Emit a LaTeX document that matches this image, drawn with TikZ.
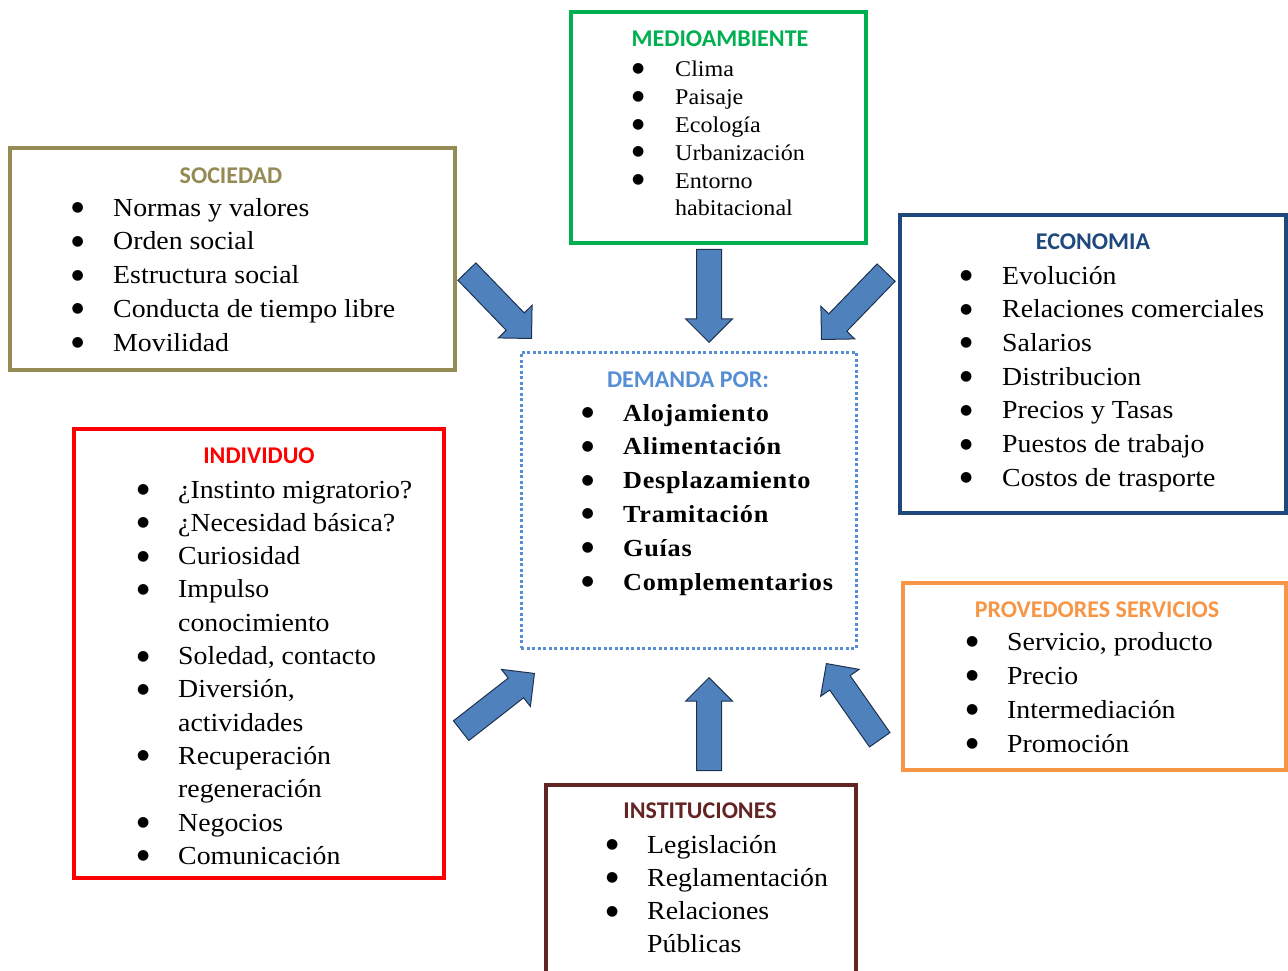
\documentclass[tikz,border=0pt]{standalone}
\usepackage{array}
\usepackage{fontspec}
\setmainfont{Liberation Serif}[FakeStretch=1.07]
\newfontfamily\headfont{Carlito}
\newfontfamily\symfont{DejaVu Sans}
\usetikzlibrary{shapes.arrows}
\definecolor{socc}{HTML}{948A54}
\definecolor{medc}{HTML}{00B050}
\definecolor{ecoc}{HTML}{1F497D}
\definecolor{demc}{HTML}{558ED5}
\definecolor{indc}{HTML}{FF0000}
\definecolor{provc}{HTML}{F79646}
\definecolor{instc}{HTML}{632523}
\definecolor{arrowfill}{HTML}{4F81BD}
\definecolor{arrowline}{HTML}{1E3250}
\newcommand\blt{\hspace*{1pt}\raisebox{4.5pt}{\symfont\mdseries\fontsize{14}{14}\selectfont ●}}
\newcommand\demfont{\bfseries\addfontfeatures{LetterSpace=3}\fontsize{24.5}{33.8}\selectfont}
\tikzset{
  box/.style={draw=#1, line width=3.5pt, rectangle, inner sep=0pt},
  ttl/.style={font=\fontsize{24}{28}\selectfont\headfont\bfseries, anchor=base, text=#1, inner sep=0pt},
  lst/.style={font=\fontsize{26}{#1}\selectfont, anchor=base west, inner sep=0pt},
  barrow/.style={single arrow, draw=arrowline, fill=arrowfill, line width=1pt,
    inner xsep=0pt, inner ysep=12pt, minimum height=93pt,
    single arrow head extend=11pt, single arrow tip angle=90, anchor=tip}
}
\begin{document}
\begin{tikzpicture}[x=1pt,y=-1pt]
\useasboundingbox (0,0) rectangle (1288,971);
% boxes
\node[box=socc, minimum width=445pt, minimum height=222pt] (soc) at (232.5,259) {};
\node[box=medc, minimum width=295pt, minimum height=231pt] (med) at (718.5,127.5) {};
\node[box=ecoc, minimum width=386pt, minimum height=298pt] (eco) at (1093,364) {};
\node[draw=demc, line width=3pt, dash pattern=on 3pt off 2.5pt, rectangle, inner sep=0pt,
      minimum width=335pt, minimum height=296pt] (dem) at (688.5,500) {};
\node[box=indc, minimum width=370pt, minimum height=449pt] (ind) at (259,653.5) {};
\node[box=provc, minimum width=383pt, minimum height=187pt] (prov) at (1094.5,676.5) {};
\node[box=instc, minimum width=310pt, minimum height=190pt] (inst) at (701,880) {};
% titles
\node[ttl=socc] (socT) at (231,183) {SOCIEDAD};
\node[ttl=medc] (medT) at (720,47) {MEDIOAMBIENTE};
\node[ttl=ecoc] (ecoT) at (1093,249) {ECONOMIA};
\node[ttl=demc] (demT) at (688,387) {DEMANDA POR:};
\node[ttl=indc] (indT) at (259,463) {INDIVIDUO};
\node[ttl=provc] (provT) at (1097,617) {PROVEDORES SERVICIOS};
\node[ttl=instc] (instT) at (700,818) {INSTITUCIONES};
% lists
\node[lst=33.75] (socL) at (70.5,216) {\begin{tabular}[t]{@{}p{42.5pt}@{}l@{}}
\blt & Normas y valores\\
\blt & Orden social\\
\blt & Estructura social\\
\blt & Conducta de tiempo libre\\
\blt & Movilidad
\end{tabular}};
\node[lst=28, font=\fontsize{22.5}{27.8}\selectfont] (medL) at (631,77) {\begin{tabular}[t]{@{}p{44pt}@{}l@{}}
\blt & Clima\\
\blt & Paisaje\\
\blt & Ecología\\
\blt & Urbanización\\
\blt & Entorno\\
 & habitacional
\end{tabular}};
\node[lst=33.7] (ecoL) at (959,284) {\begin{tabular}[t]{@{}p{43pt}@{}l@{}}
\blt & Evolución\\
\blt & Relaciones comerciales\\
\blt & Salarios\\
\blt & Distribucion\\
\blt & Precios y Tasas\\
\blt & Puestos de trabajo\\
\blt & Costos de trasporte
\end{tabular}};
\node[lst=33.8] (demL) at (580.5,421) {\begin{tabular}[t]{@{}p{42.5pt}@{}>{\demfont}l@{}}
\blt & Alojamiento\\
\blt & Alimentación\\
\blt & Desplazamiento\\
\blt & Tramitación\\
\blt & Guías\\
\blt & Complementarios
\end{tabular}};
\node[lst=33.3] (indL) at (136,498) {\begin{tabular}[t]{@{}p{42pt}@{}l@{}}
\blt & ¿Instinto migratorio?\\
\blt & ¿Necesidad básica?\\
\blt & Curiosidad\\
\blt & Impulso\\
 & conocimiento\\
\blt & Soledad, contacto\\
\blt & Diversión,\\
 & actividades\\
\blt & Recuperación\\
 & regeneración\\
\blt & Negocios\\
\blt & Comunicación
\end{tabular}};
\node[lst=34] (provL) at (965,650) {\begin{tabular}[t]{@{}p{42pt}@{}l@{}}
\blt & Servicio, producto\\
\blt & Precio\\
\blt & Intermediación\\
\blt & Promoción
\end{tabular}};
\node[lst=33.3] (instL) at (605,853) {\begin{tabular}[t]{@{}p{42pt}@{}l@{}}
\blt & Legislación\\
\blt & Reglamentación\\
\blt & Relaciones\\
 & Públicas
\end{tabular}};
% block arrows
\node[barrow, rotate=-46] (aSoc) at (532,339) {};
\node[barrow, rotate=-90] (aMed) at (709,343) {};
\node[barrow, rotate=-134] (aEco) at (821,340) {};
\node[barrow, rotate=38] (aInd) at (535,673) {};
\node[barrow, rotate=90] (aInst) at (709,677) {};
\node[barrow, rotate=125] (aProv) at (826,663) {};
\end{tikzpicture}
\end{document}
